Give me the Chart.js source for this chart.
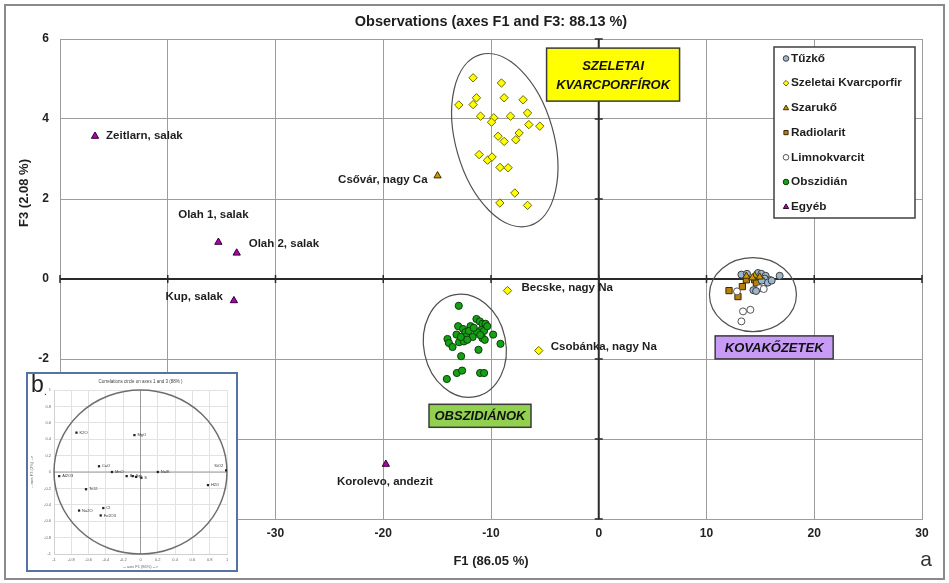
<!DOCTYPE html>
<html>
<head>
<meta charset="utf-8">
<script src="https://cdn.jsdelivr.net/npm/chart.js@4.4.1/dist/chart.umd.min.js"></script>
<style>
  html, body { margin: 0; padding: 0; background: #fff; }
  #wrap { position: relative; width: 949px; height: 583px; }
  #main { position: absolute; left: 0; top: 0; }
  #insetBox { position: absolute; left: 26px; top: 372px; width: 208px; height: 196px;
              border: 2px solid #5673a6; background: #fff; }
  #inset { display: block; }
</style>
</head>
<body>
<div id="wrap">
  <canvas id="main" width="949" height="583"></canvas>
  <div id="insetBox"><canvas id="inset" width="208" height="196"></canvas></div>
</div>
<script>
const FONT = "'Liberation Sans', Arial, sans-serif";

// ---- Observations, factor scores on F1 (x) and F3 (y) ----
const seriesNames = ['Tűzkő', 'Szeletai Kvarcporfir', 'Szarukő', 'Radiolarit', 'Limnokvarcit', 'Obszidián', 'Egyéb'];

const tuzko = [[13.24, 0.11], [13.76, 0.13], [14.78, 0.15], [15.09, 0.13], [15.49, 0.08], [16.79, 0.08],
  [15.4, 0.01], [15.68, -0.09], [16.05, -0.04], [15.12, -0.04], [14.35, -0.28], [14.6, -0.3]];

const szeletaiCluster = [[-11.66, 5.03], [-9.03, 4.9], [-11.35, 4.53], [-8.78, 4.53], [-7.02, 4.48],
  [-12.99, 4.35], [-11.66, 4.36], [-6.61, 4.15], [-10.97, 4.07], [-9.74, 4.03], [-8.19, 4.07],
  [-9.95, 3.92], [-6.49, 3.86], [-5.47, 3.82], [-9.34, 3.57], [-7.39, 3.65], [-8.78, 3.44],
  [-7.7, 3.48], [-11.1, 3.11], [-10.32, 2.97], [-9.9, 3.05], [-9.16, 2.79], [-8.41, 2.78],
  [-7.79, 2.15], [-9.18, 1.9], [-6.61, 1.84]];
const szeletaiNamed = [[-8.47, -0.29], [-5.57, -1.79]];
const szeletaiNames = ['Becske, nagy Na', 'Csobánka, nagy Na'];

const szarukoCluster = [[13.7, 0.07], [14.47, 0.08], [14.94, 0.05], [14.26, 0.03]];
const szarukoNamed = [[-14.96, 2.58]];
const szarukoNames = ['Csővár, nagy Ca'];

const radiolarit = [[12.09, -0.29], [12.92, -0.44], [13.33, -0.19], [13.7, -0.02], [14.47, -0.02], [14.63, -0.1]];

const limnokvarcit = [[15.7, -0.06], [15.86, -0.02], [15.31, -0.14], [14.94, -0.23], [15.31, -0.25],
  [12.83, -0.31], [13.39, -0.81], [14.07, -0.77], [13.24, -1.06]];

const obszidian = [[-12.99, -0.67], [-14.04, -1.5], [-13.91, -1.6], [-13.57, -1.7], [-13.05, -1.18],
  [-13.2, -1.39], [-12.96, -1.58], [-12.59, -1.25], [-12.37, -1.33], [-12.52, -1.56], [-12.27, -1.43],
  [-11.9, -1.18], [-11.35, -1.0], [-11.04, -1.06], [-10.79, -1.12], [-10.51, -1.12], [-10.88, -1.27],
  [-11.29, -1.33], [-10.79, -1.48], [-10.58, -1.52], [-9.8, -1.39], [-9.12, -1.62], [-11.16, -1.77],
  [-12.77, -1.93], [-13.17, -2.35], [-12.68, -2.29], [-11.01, -2.35], [-10.64, -2.35], [-14.1, -2.5],
  [-12.05, -1.3], [-11.6, -1.22], [-10.65, -1.3], [-12.8, -1.45], [-11.7, -1.45], [-10.35, -1.18],
  [-12.2, -1.52], [-11.0, -1.4]];

const egyeb = [[-46.75, 3.57], [-35.3, 0.92], [-33.6, 0.65], [-33.86, -0.54], [-19.76, -4.63]];
const egyebNames = ['Zeitlarn, salak', 'Olah 1, salak', 'Olah 2, salak', 'Kup, salak', 'Korolevo, andezit'];

// axis ranges and tick spacing
const xRange = [-50, 30], xStep = 10;
const yRange = [-6, 6], yStep = 2;

// group names written in coloured boxes
const groupTexts = [['SZELETAI', 'KVARCPORFÍROK'], ['OBSZIDIÁNOK'], ['KOVAKŐZETEK']];

// ---- Correlation circle (inset), loadings on F1 / F3 ----
const corrNames = ['K2O', 'MgO', 'CaO', 'MnO', 'Na/K', 'Al2O3', 'Ba', 'Sr', 'P', 'S', 'TiO2', 'H2O', 'Na2O', 'Cl', 'Fe2O3', 'SiO2'];
const corrF1 = [-0.74, -0.07, -0.48, -0.33, 0.2, -0.94, -0.16, -0.09, -0.05, 0.01, -0.63, 0.78, -0.71, -0.43, -0.46, 0.99];
const corrF3 = [0.48, 0.45, 0.07, 0.0, 0.0, -0.05, -0.05, -0.05, -0.06, -0.07, -0.21, -0.16, -0.47, -0.44, -0.53, 0.02];

// ---------------------------------------------------------------
const toXY = arr => arr.map(p => ({ x: p[0], y: p[1] }));

const markerStyles = [
  { pointStyle: 'circle',  r: 3.5, fill: '#9db6cf', stroke: '#3c3c3c' },
  { pointStyle: 'rectRot', r: 4.2, fill: '#ffff00', stroke: '#6a6a00' },
  { pointStyle: 'triangle', r: 4.2, fill: '#c99a00', stroke: '#3f3000' },
  { pointStyle: 'rect',    r: 4.4, fill: '#b7800c', stroke: '#3a2800' },
  { pointStyle: 'circle',  r: 3.5, fill: '#ffffff', stroke: '#555555' },
  { pointStyle: 'circle',  r: 3.6, fill: '#16a016', stroke: '#0b3f0b' },
  { pointStyle: 'triangle', r: 4.2, fill: '#b000b0', stroke: '#2e002e' }
];

const seriesData = [
  tuzko,
  szeletaiCluster.concat(szeletaiNamed),
  szarukoCluster.concat(szarukoNamed),
  radiolarit,
  limnokvarcit,
  obszidian,
  egyeb
];

// draw order: green and yellow first, the flint group on top
const drawOrder = [5, 1, 6, 3, 4, 0, 2];

const datasets = seriesNames.map((name, i) => ({
  label: name,
  data: toXY(seriesData[i]),
  pointStyle: markerStyles[i].pointStyle,
  pointRadius: markerStyles[i].r,
  pointHoverRadius: markerStyles[i].r,
  backgroundColor: markerStyles[i].fill,
  borderColor: markerStyles[i].stroke,
  borderWidth: 1,
  order: drawOrder.length - drawOrder.indexOf(i)
}));

// labels attached to named samples: [series array, names, placement]
const pointLabelSets = [
  { pts: egyeb, names: egyebNames, place: [
    { dx: 11, dy: 0, align: 'left' },
    { dx: -5, dy: -27, align: 'center' },
    { dx: 12, dy: -9, align: 'left' },
    { dx: -11, dy: -4, align: 'right' },
    { dx: -1, dy: 18, align: 'center' } ] },
  { pts: szeletaiNamed, names: szeletaiNames, place: [
    { dx: 14, dy: -3, align: 'left' },
    { dx: 12, dy: -4, align: 'left' } ] },
  { pts: szarukoNamed, names: szarukoNames, place: [
    { dx: -10, dy: 4, align: 'right' } ] }
];

// ellipses around groups: centre in data units, radii in px, rotation in degrees
const groupEllipses = [
  { cx: -8.72, cy: 3.47, rx: 49, ry: 89, rot: -16 },
  { cx: -12.43, cy: -1.67, rx: 41, ry: 52, rot: -12 },
  { cx: 14.31, cy: -0.39, rx: 43.5, ry: 37, rot: 0 }
];
// boxes holding group names: centre in data units, size in px
const groupBoxes = [
  { cx: 1.33, cy: 5.11, w: 133, h: 53, fill: '#ffff00', font: 'italic bold 13px ' + FONT, lh: 19 },
  { cx: -11.02, cy: -3.42, w: 102, h: 23, fill: '#92d050', font: 'italic bold 13px ' + FONT, lh: 19 },
  { cx: 16.28, cy: -1.71, w: 118, h: 23, fill: '#c89cf6', font: 'italic bold 13px ' + FONT, lh: 19 }
];

function drawMarker(ctx, st, x, y, r) {
  ctx.save();
  ctx.fillStyle = st.fill;
  ctx.strokeStyle = st.stroke;
  ctx.lineWidth = 1;
  ctx.beginPath();
  if (st.pointStyle === 'circle') {
    ctx.arc(x, y, r, 0, Math.PI * 2);
  } else if (st.pointStyle === 'rectRot') {
    ctx.moveTo(x, y - r); ctx.lineTo(x + r, y); ctx.lineTo(x, y + r); ctx.lineTo(x - r, y); ctx.closePath();
  } else if (st.pointStyle === 'rect') {
    ctx.rect(x - r * 0.75, y - r * 0.75, r * 1.5, r * 1.5);
  } else {
    ctx.moveTo(x, y - r); ctx.lineTo(x + r * 0.95, y + r * 0.65); ctx.lineTo(x - r * 0.95, y + r * 0.65); ctx.closePath();
  }
  ctx.fill(); ctx.stroke();
  ctx.restore();
}

const decorPlugin = {
  id: 'decor',
  beforeDraw(chart) {
    const ctx = chart.ctx;
    ctx.save();
    ctx.fillStyle = '#fff';
    ctx.fillRect(0, 0, chart.width, chart.height);
    ctx.strokeStyle = '#8a8a8a';
    ctx.lineWidth = 2;
    ctx.strokeRect(5, 5, chart.width - 10, chart.height - 9);
    ctx.restore();
  },
  beforeDatasetsDraw(chart) {
    const ctx = chart.ctx, xs = chart.scales.x, ys = chart.scales.y, a = chart.chartArea;
    ctx.save();
    // axes through the origin with tick marks
    const x0 = xs.getPixelForValue(0), y0 = ys.getPixelForValue(0);
    ctx.strokeStyle = '#2a2a2a';
    ctx.lineWidth = 2;
    ctx.beginPath();
    ctx.moveTo(a.left, y0); ctx.lineTo(a.right, y0);
    ctx.moveTo(x0, a.top); ctx.lineTo(x0, a.bottom);
    ctx.stroke();
    ctx.lineWidth = 1.5;
    ctx.beginPath();
    for (let v = xRange[0]; v <= xRange[1]; v += xStep) {
      const px = xs.getPixelForValue(v);
      ctx.moveTo(px, y0 - 4); ctx.lineTo(px, y0 + 4);
    }
    for (let v = yRange[0]; v <= yRange[1]; v += yStep) {
      const py = ys.getPixelForValue(v);
      ctx.moveTo(x0 - 4, py); ctx.lineTo(x0 + 4, py);
    }
    ctx.stroke();
    // group ellipses
    ctx.strokeStyle = '#505050';
    ctx.lineWidth = 1.2;
    groupEllipses.forEach(e => {
      ctx.beginPath();
      ctx.ellipse(xs.getPixelForValue(e.cx), ys.getPixelForValue(e.cy), e.rx, e.ry, e.rot * Math.PI / 180, 0, Math.PI * 2);
      ctx.stroke();
    });
    ctx.restore();
  },
  afterDatasetsDraw(chart) {
    const ctx = chart.ctx, xs = chart.scales.x, ys = chart.scales.y;
    ctx.save();
    // sample names
    ctx.fillStyle = '#1e1e1e';
    ctx.font = 'bold 11.5px ' + FONT;
    ctx.textBaseline = 'middle';
    pointLabelSets.forEach(set => {
      set.pts.forEach((p, i) => {
        const pl = set.place[i];
        ctx.textAlign = pl.align;
        ctx.fillText(set.names[i], xs.getPixelForValue(p[0]) + pl.dx, ys.getPixelForValue(p[1]) + pl.dy);
      });
    });
    // group boxes
    groupBoxes.forEach((b, i) => {
      const cx = xs.getPixelForValue(b.cx), cy = ys.getPixelForValue(b.cy);
      ctx.fillStyle = b.fill;
      ctx.fillRect(cx - b.w / 2, cy - b.h / 2, b.w, b.h);
      ctx.strokeStyle = '#3a3a3a';
      ctx.lineWidth = 1.5;
      ctx.strokeRect(cx - b.w / 2, cy - b.h / 2, b.w, b.h);
      ctx.fillStyle = '#111';
      ctx.font = b.font;
      ctx.textAlign = 'center';
      const lines = groupTexts[i];
      lines.forEach((t, k) => {
        ctx.fillText(t, cx, cy + (k - (lines.length - 1) / 2) * b.lh + 1);
      });
    });
    ctx.restore();
  },
  afterDraw(chart) {
    const ctx = chart.ctx, a = chart.chartArea;
    ctx.save();
    ctx.fillStyle = '#1e1e1e';
    ctx.textAlign = 'center';
    ctx.textBaseline = 'middle';
    ctx.font = 'bold 14.5px ' + FONT;
    ctx.fillText('Observations (axes F1 and F3: 88.13 %)', (a.left + a.right) / 2, 22);
    ctx.font = 'bold 13px ' + FONT;
    ctx.fillText('F1 (86.05 %)', (a.left + a.right) / 2, 561);
    ctx.save();
    ctx.translate(24, 193);
    ctx.rotate(-Math.PI / 2);
    ctx.fillText('F3 (2.08 %)', 0, 0);
    ctx.restore();
    ctx.font = '21px ' + FONT;
    ctx.fillStyle = '#333';
    ctx.fillText('a', 926, 560);
    // legend
    const lx = 774, ly = 47, lw = 141, lh = 171;
    ctx.fillStyle = '#fff';
    ctx.fillRect(lx, ly, lw, lh);
    ctx.strokeStyle = '#404040';
    ctx.lineWidth = 1.5;
    ctx.strokeRect(lx, ly, lw, lh);
    ctx.font = 'bold 11.8px ' + FONT;
    ctx.textAlign = 'left';
    seriesNames.forEach((n, i) => {
      const y = ly + 11.5 + i * 24.7;
      drawMarker(ctx, markerStyles[i], lx + 12, y, 2.8);
      ctx.fillStyle = '#1e1e1e';
      ctx.fillText(n, lx + 17, y);
    });
    ctx.restore();
  }
};

const gridColor = '#9c9c9c';
new Chart(document.getElementById('main'), {
  type: 'scatter',
  data: { datasets },
  options: {
    responsive: false,
    animation: false,
    events: [],
    layout: { padding: { left: 0, top: 39, right: 27, bottom: 0 } },
    plugins: { legend: { display: false }, tooltip: { enabled: false }, title: { display: false } },
    scales: {
      x: {
        type: 'linear', min: xRange[0], max: xRange[1],
        ticks: { stepSize: xStep, color: '#222', font: { family: FONT, size: 12, weight: 'bold' }, padding: 7 },
        grid: { color: gridColor, lineWidth: 1, drawTicks: false },
        border: { display: true, color: gridColor },
        afterFit(s) { s.height = 64; }
      },
      y: {
        type: 'linear', min: yRange[0], max: yRange[1],
        ticks: { stepSize: yStep, color: '#222', font: { family: FONT, size: 12, weight: 'bold' }, padding: 11 },
        grid: { color: gridColor, lineWidth: 1, drawTicks: false },
        border: { display: true, color: gridColor },
        afterFit(s) { s.width = 60; }
      }
    }
  },
  plugins: [decorPlugin]
});

// ---- inset: correlation circle ----
const insetPlugin = {
  id: 'insetDecor',
  beforeDatasetsDraw(chart) {
    const ctx = chart.ctx, xs = chart.scales.x, ys = chart.scales.y, a = chart.chartArea;
    const x0 = xs.getPixelForValue(0), y0 = ys.getPixelForValue(0);
    ctx.save();
    ctx.strokeStyle = '#9a9a9a';
    ctx.lineWidth = 1;
    ctx.beginPath();
    ctx.moveTo(a.left, y0); ctx.lineTo(a.right, y0);
    ctx.moveTo(x0, a.top); ctx.lineTo(x0, a.bottom);
    ctx.stroke();
    ctx.strokeStyle = '#6e6e6e';
    ctx.lineWidth = 1.5;
    ctx.beginPath();
    ctx.ellipse(x0, y0, xs.getPixelForValue(1) - x0, y0 - ys.getPixelForValue(1), 0, 0, Math.PI * 2);
    ctx.stroke();
    ctx.restore();
  },
  afterDatasetsDraw(chart) {
    const ctx = chart.ctx, xs = chart.scales.x, ys = chart.scales.y;
    ctx.save();
    ctx.fillStyle = '#333';
    ctx.font = '4px ' + FONT;
    ctx.textBaseline = 'middle';
    corrNames.forEach((n, i) => {
      const px = xs.getPixelForValue(corrF1[i]), py = ys.getPixelForValue(corrF3[i]);
      if (corrF1[i] > 0.9) { ctx.textAlign = 'right'; ctx.fillText(n, px - 3, py - 4); }
      else { ctx.textAlign = 'left'; ctx.fillText(n, px + 3, py); }
    });
    ctx.restore();
  },
  afterDraw(chart) {
    const ctx = chart.ctx, a = chart.chartArea;
    ctx.save();
    ctx.fillStyle = '#444';
    ctx.textAlign = 'center';
    ctx.textBaseline = 'middle';
    ctx.font = '4.5px ' + FONT;
    ctx.fillText('Correlations circle on axes 1 and 3 (88% )', (a.left + a.right) / 2, 8);
    ctx.font = '23px ' + FONT;
    ctx.fillStyle = '#222';
    ctx.textAlign = 'left';
    ctx.fillText('b', 3, 12);
    ctx.font = '10px ' + FONT;
    ctx.fillText('.', 16, 18);
    ctx.restore();
  }
};

const insetTicks = { color: '#666', font: { family: FONT, size: 4 }, padding: 3,
  callback: v => (Math.round(v * 10) / 10).toString() };

new Chart(document.getElementById('inset'), {
  type: 'scatter',
  data: {
    datasets: [{
      data: corrF1.map((x, i) => ({ x, y: corrF3[i] })),
      pointStyle: 'rect', pointRadius: 1.6, backgroundColor: '#222', borderColor: '#222', borderWidth: 0
    }]
  },
  options: {
    responsive: false,
    animation: false,
    events: [],
    layout: { padding: { left: 0, top: 16, right: 9, bottom: 0 } },
    plugins: { legend: { display: false }, tooltip: { enabled: false } },
    scales: {
      x: {
        type: 'linear', min: -1, max: 1,
        ticks: Object.assign({ stepSize: 0.2 }, insetTicks),
        grid: { color: '#e2e2e2', drawTicks: false },
        border: { display: true, color: '#d0d0d0' },
        title: { display: true, text: '-- axis F1 (86%) -->', color: '#666', font: { family: FONT, size: 4 }, padding: 1 },
        afterFit(s) { s.height = 16; }
      },
      y: {
        type: 'linear', min: -1, max: 1,
        ticks: Object.assign({ stepSize: 0.2 }, insetTicks),
        grid: { color: '#e2e2e2', drawTicks: false },
        border: { display: true, color: '#d0d0d0' },
        title: { display: true, text: '-- axis F3 (2%) -->', color: '#666', font: { family: FONT, size: 4 }, padding: 1 },
        afterFit(s) { s.width = 26; }
      }
    }
  },
  plugins: [insetPlugin]
});
</script>
</body>
</html>
